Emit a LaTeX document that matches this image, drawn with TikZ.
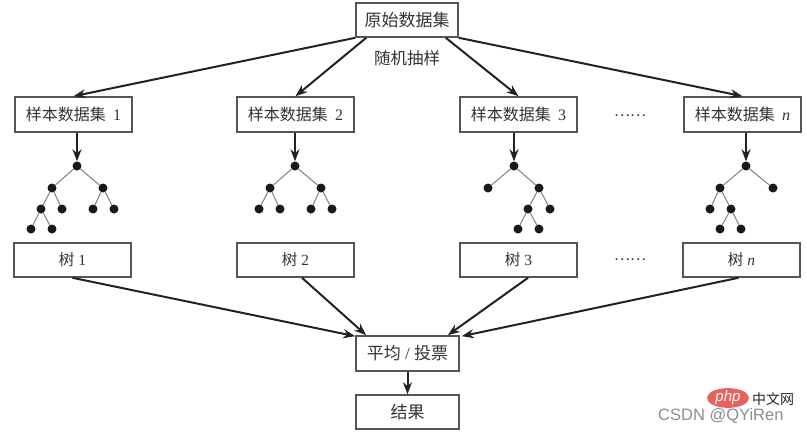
\documentclass[tikz,border=0pt]{standalone}
\usepackage{fontspec}
\setmainfont{Liberation Serif}
\newfontfamily\cjk{Noto Sans CJK SC}
\newfontfamily\wmfont{Liberation Sans}
\usetikzlibrary{arrows.meta,shapes.geometric}
\definecolor{boxline}{HTML}{555555}
\definecolor{txt}{HTML}{333333}
\definecolor{arrcol}{HTML}{222222}
\definecolor{treeline}{HTML}{808080}
\definecolor{phpred}{HTML}{E8615F}
\tikzset{
  box/.style={draw=boxline, line width=1.6pt, fill=white, inner sep=0pt, text=txt, font=\fontsize{15.5}{18}\selectfont},
  sbox/.style={box, minimum width=117pt, minimum height=35pt, font=\fontsize{16}{19}\selectfont},
  tbox/.style={box, minimum width=117pt, minimum height=34pt},
  bigbox/.style={box, minimum width=103pt, font=\fontsize{17}{20}\selectfont},
  arr/.style={draw=arrcol, line width=2pt, -{Stealth[length=12pt,width=9pt]}},
  dot/.style={circle, fill=black!90, inner sep=0pt, minimum size=9pt},
  edge/.style={draw=treeline, line width=1pt},
  ell/.style={text=txt, font=\fontsize{15}{18}\selectfont},
}
\newcommand{\gap}{\hspace{0.45em}}
\begin{document}
\begin{tikzpicture}[x=1pt,y=-1pt]
\useasboundingbox (0,0) rectangle (807,434);
% top
\node[bigbox, minimum width=102pt, minimum height=34pt] (top) at (407,20) {\cjk 原始数据集};
\node[text=txt, font=\fontsize{16.5}{19}\selectfont] (lbl) at (407,58) {\cjk 随机抽样};
% sample boxes
\node[sbox] (s1) at (73.5,114.5) {{\cjk 样本数据集}\gap 1};
\node[sbox] (s2) at (295.5,114.5) {{\cjk 样本数据集}\gap 2};
\node[sbox] (s3) at (518.5,114.5) {{\cjk 样本数据集}\gap 3};
\node[sbox] (sn) at (742.5,114.5) {{\cjk 样本数据集}\gap \textit{n}};
\node[ell] (dots1) at (630,116) {\cjk ……};
% tree boxes
\node[tbox] (t1) at (72.5,260) {{\cjk 树} 1};
\node[tbox] (t2) at (295.5,260) {{\cjk 树} 2};
\node[tbox] (t3) at (518.5,260) {{\cjk 树} 3};
\node[tbox] (tn) at (741.5,260) {{\cjk 树} \textit{n}};
\node[ell] (dots2) at (630,260) {\cjk ……};
% average & result
\node[bigbox, minimum height=35pt] (avg) at (407.5,353.5) {{\cjk 平均} / {\cjk 投票}};
\node[bigbox, minimum height=34pt] (res) at (407.5,412) {\cjk 结果};

% top arrows
\draw[arr] (top.south west) -- (s1.north);
\draw[arr] ([xshift=11pt]top.south west) -- (s2.north);
\draw[arr] ([xshift=-13pt]top.south east) -- (s3.north);
\draw[arr] (top.south east) -- (sn.north);

% tree 1
\node[dot] (a0) at (77,166) {};
\node[dot] (a1) at (52,188) {};
\node[dot] (a2) at (103,188) {};
\node[dot] (a3) at (41,209) {};
\node[dot] (a4) at (62,209) {};
\node[dot] (a5) at (93,209) {};
\node[dot] (a6) at (114,209) {};
\node[dot] (a7) at (31,229) {};
\node[dot] (a8) at (52,229) {};
\draw[edge] (a0)--(a1) (a0)--(a2) (a1)--(a3) (a1)--(a4) (a2)--(a5) (a2)--(a6) (a3)--(a7) (a3)--(a8);
% tree 2
\node[dot] (b0) at (295,166) {};
\node[dot] (b1) at (270,188) {};
\node[dot] (b2) at (321,188) {};
\node[dot] (b3) at (259,209) {};
\node[dot] (b4) at (280,209) {};
\node[dot] (b5) at (311,209) {};
\node[dot] (b6) at (332,209) {};
\draw[edge] (b0)--(b1) (b0)--(b2) (b1)--(b3) (b1)--(b4) (b2)--(b5) (b2)--(b6);
% tree 3
\node[dot] (c0) at (514,166) {};
\node[dot] (c1) at (488,188) {};
\node[dot] (c2) at (539,188) {};
\node[dot] (c3) at (528,209) {};
\node[dot] (c4) at (550,209) {};
\node[dot] (c5) at (518,229) {};
\node[dot] (c6) at (539,229) {};
\draw[edge] (c0)--(c1) (c0)--(c2) (c2)--(c3) (c2)--(c4) (c3)--(c5) (c3)--(c6);
% tree n
\node[dot] (d0) at (746,166) {};
\node[dot] (d1) at (720,188) {};
\node[dot] (d2) at (773,188) {};
\node[dot] (d3) at (710,209) {};
\node[dot] (d4) at (731,209) {};
\node[dot] (d5) at (720,229) {};
\node[dot] (d6) at (741,229) {};
\draw[edge] (d0)--(d1) (d0)--(d2) (d1)--(d3) (d1)--(d4) (d4)--(d5) (d4)--(d6);

% stems
\draw[arr] (a0 |- s1.south) -- (a0);
\draw[arr] (b0 |- s2.south) -- (b0);
\draw[arr] (c0 |- s3.south) -- (c0);
\draw[arr] (d0 |- sn.south) -- (d0);

% to average
\draw[arr] (t1.south) -- ([yshift=-1pt]avg.north west);
\draw[arr] ([xshift=6.5pt]t2.south) -- ([xshift=11pt]avg.north west);
\draw[arr] ([xshift=9.5pt]t3.south) -- ([xshift=-12pt]avg.north east);
\draw[arr] ([xshift=-3pt]tn.south) -- ([xshift=2pt,yshift=-1pt]avg.north east);
\draw[arr] (avg.south) -- (res.north);

% watermark
\node[ellipse, fill=phpred, minimum width=42pt, minimum height=19pt, inner sep=0pt, text=white, font=\wmfont\fontsize{15}{15}\selectfont\itshape] (php) at (728,398) {php};
\node[text=black!85, inner sep=0pt, font=\fontsize{14}{14}\selectfont, anchor=west] (cnw) at (752,399) {\cjk 中文网};
\node[text=black!45, inner sep=0pt, font=\wmfont\fontsize{16.5}{16.5}\selectfont, anchor=west] (wm) at (658,416) {CSDN @QYiRen};
\end{tikzpicture}
\end{document}
